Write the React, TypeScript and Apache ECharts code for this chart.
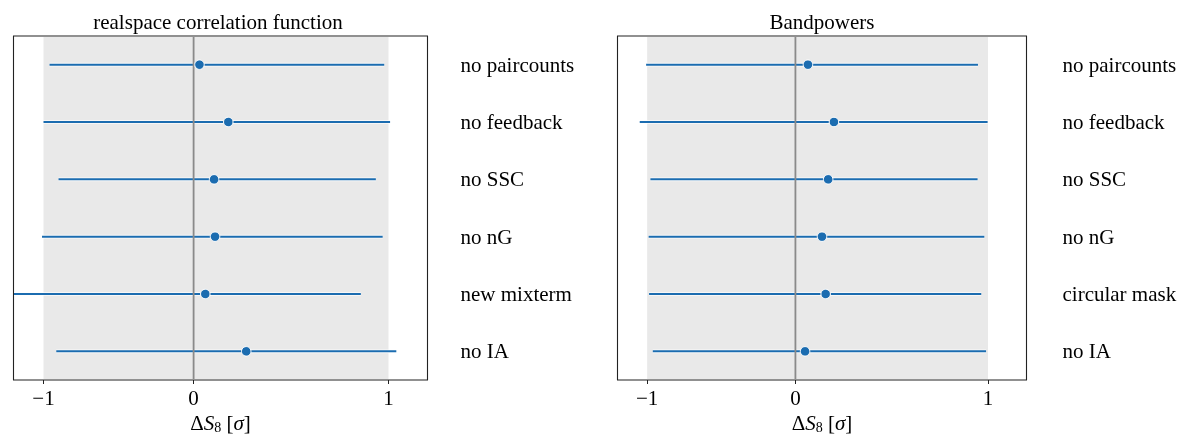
import React, { useEffect, useRef } from "react";
import * as echarts from "echarts";

// ---- data ----
const rsCategories = ["no paircounts", "no feedback", "no SSC", "no nG", "new mixterm", "no IA"];
const rsCenter = [0.03, 0.178, 0.105, 0.11, 0.06, 0.27];
const rsLow = [-0.96, -1.0, -0.9, -1.01, -1.25, -0.915];
const rsHigh = [0.978, 1.008, 0.935, 0.97, 0.858, 1.04];

const bpCategories = ["no paircounts", "no feedback", "no SSC", "no nG", "circular mask", "no IA"];
const bpCenter = [0.065, 0.2, 0.17, 0.138, 0.157, 0.05];
const bpLow = [-1.007, -1.05, -0.978, -0.99, -0.987, -0.962];
const bpHigh = [0.948, 0.998, 0.946, 0.981, 0.965, 0.99];

const tickValues = [-1, 0, 1];
const bandRange = [-1, 1];
const xRange = [-1.2, 1.2];
const titles = ["realspace correlation function", "Bandpowers"];

// display transform of the x axis (negative side compressed)
const R = 0.77;
const tx = (v: number) => (v < 0 ? v * R : v);
const itx = (u: number) => (u < 0 ? u / R : u);

const BLUE = "#1b6cb0";
const FONT = "Liberation Serif";
const FS = 21;

const grids = [
  { left: 13.5, top: 36, width: 414, height: 344, labelMargin: 33, cx: 218 },
  { left: 617.5, top: 36, width: 409, height: 344, labelMargin: 36, cx: 822 },
];

export default function App() {
  const ref = useRef<HTMLDivElement>(null);
  useEffect(() => {
    if (!ref.current) return;
    const chart = echarts.init(ref.current, undefined, { renderer: "svg" });
    const panels = [
      { cats: rsCategories, c: rsCenter, lo: rsLow, hi: rsHigh },
      { cats: bpCategories, c: bpCenter, lo: bpLow, hi: bpHigh },
    ];
    const tickU = tickValues.map(tx);
    const fmt = (v: number) => {
      const r = Math.round(itx(v));
      return r < 0 ? "\u2212" + Math.abs(r) : String(r);
    };
    const series: any[] = [];
    panels.forEach((p, i) => {
      series.push({
        type: "custom",
        xAxisIndex: i,
        yAxisIndex: i,
        silent: true,
        z: 1,
        data: [[0, 0]],
        renderItem: (params: any, api: any) => {
          const cs = params.coordSys;
          const x0 = api.coord([tx(bandRange[0]), 0])[0];
          const x1 = api.coord([tx(bandRange[1]), 0])[0];
          return {
            type: "rect",
            shape: { x: x0, y: cs.y + 1, width: x1 - x0, height: cs.height - 2 },
            style: { fill: "#e9e9e9" },
          };
        },
      });
      series.push({
        type: "custom",
        xAxisIndex: i,
        yAxisIndex: i,
        silent: true,
        z: 2,
        encode: { x: [0, 1], y: 2 },
        data: p.cats.map((_, k) => [tx(p.lo[k]), tx(p.hi[k]), k]),
        renderItem: (params: any, api: any) => {
          const cs = params.coordSys;
          const a = api.coord([api.value(0), api.value(2)]);
          const b = api.coord([api.value(1), api.value(2)]);
          const xa = Math.max(cs.x + 0.5, a[0]);
          const xb = Math.min(cs.x + cs.width - 0.5, b[0]);
          return {
            type: "group",
            children: [
              {
                type: "line",
                shape: { x1: xa, y1: a[1], x2: xb, y2: b[1] },
                style: { stroke: "rgba(255,255,255,0.85)", lineWidth: 3.6 },
              },
              {
                type: "line",
                shape: { x1: xa, y1: a[1], x2: xb, y2: b[1] },
                style: { stroke: BLUE, lineWidth: 2 },
              },
            ],
          };
        },
      });
      series.push({
        type: "custom",
        xAxisIndex: i,
        yAxisIndex: i,
        silent: true,
        z: 3,
        data: [[0, 0]],
        renderItem: (params: any, api: any) => {
          const cs = params.coordSys;
          const x = api.coord([0, 0])[0];
          return {
            type: "line",
            shape: { x1: x, y1: cs.y + 1, x2: x, y2: cs.y + cs.height - 1 },
            style: { stroke: "#8a8a8a", lineWidth: 1.8 },
          };
        },
      });
      series.push({
        type: "scatter",
        xAxisIndex: i,
        yAxisIndex: i,
        z: 4,
        symbolSize: 9.5,
        itemStyle: { color: BLUE, borderColor: "#fff", borderWidth: 1, opacity: 1 },
        data: p.c.map((v, k) => [tx(v), k]),
      });
    });

    const rich = {
      n: { fontFamily: FONT, fontSize: FS, color: "#000" },
      i: { fontFamily: FONT, fontSize: FS, fontStyle: "italic", color: "#000" },
      s: { fontFamily: FONT, fontSize: 14, color: "#000", padding: [8, 0, 0, 0] },
    };

    const option: any = {
      animation: false,
      grid: grids.map((g) => ({
        left: g.left,
        top: g.top,
        width: g.width,
        height: g.height,
        show: true,
        borderColor: "#222",
        borderWidth: 1.1,
      })),
      xAxis: grids.map((_, i) => ({
        type: "value",
        gridIndex: i,
        min: tx(xRange[0]),
        max: tx(xRange[1]),
        axisLine: { show: false },
        axisTick: {
          show: true,
          customValues: tickU,
          length: 4,
          lineStyle: { color: "#222", width: 1 },
        },
        axisLabel: {
          customValues: tickU,
          formatter: fmt,
          fontFamily: FONT,
          fontSize: FS,
          color: "#000",
          margin: 7,
        },
        splitLine: { show: false },
        name: "{n|\u0394}{i|S}{s|8}{n| [}{i|\u03c3}{n|]}",
        nameLocation: "middle",
        nameGap: 32,
        nameTextStyle: { rich, fontFamily: FONT, color: "#000" },
      })),
      yAxis: panels.map((p, i) => ({
        type: "category",
        gridIndex: i,
        data: p.cats,
        inverse: true,
        position: "right",
        axisLine: { show: false },
        axisTick: { show: false },
        splitLine: { show: false },
        axisLabel: {
          margin: grids[i].labelMargin,
          align: "left",
          fontFamily: FONT,
          fontSize: FS,
          color: "#000",
        },
      })),
      graphic: grids.map((g, i) => ({
        type: "text",
        x: g.cx,
        y: 22,
        style: {
          text: titles[i],
          fontFamily: FONT,
          fontSize: FS,
          fill: "#000",
          textAlign: "center",
          textVerticalAlign: "middle",
        },
      })),
      series,
    };
    chart.setOption(option);
    return () => chart.dispose();
  }, []);
  return <div ref={ref} style={{ position: "fixed", left: 0, top: 0, width: 1200, height: 448 }} />;
}
